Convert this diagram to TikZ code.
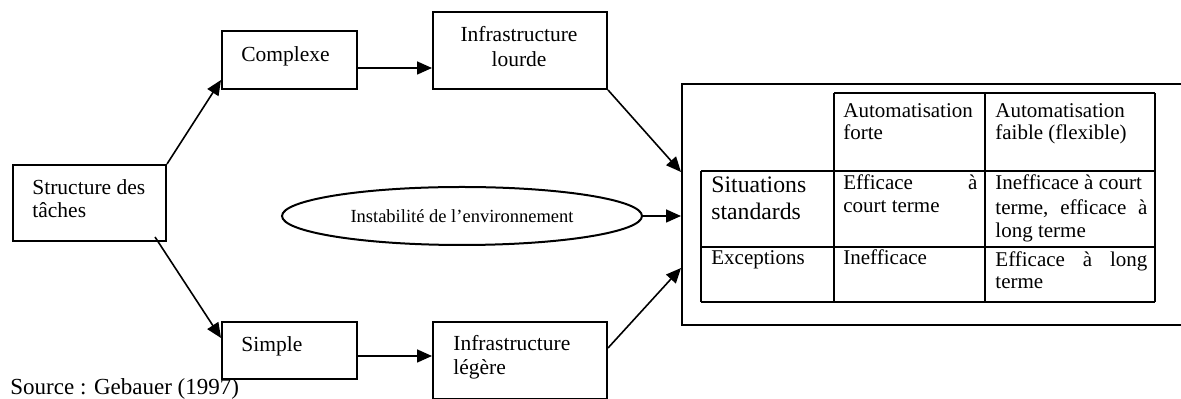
\documentclass[tikz,border=0pt]{standalone}
\usepackage{fontspec}
\setmainfont{Liberation Serif}
\usetikzlibrary{arrows.meta,shapes.geometric}
\begin{document}
\begin{tikzpicture}[x=0.5pt,y=-0.5pt,
  box/.style={draw,line width=1pt,inner sep=0pt,anchor=north west},
  conn/.style={line width=0.8pt,-{Triangle[length=7.5pt,width=6.5pt]}},
  txt/.style={inner sep=0pt,anchor=base west,font=\fontsize{10.75pt}{12pt}\selectfont},
  ctxt/.style={txt,anchor=base},
  tbl/.style={inner sep=0pt,anchor=base west,font=\fontsize{10.5pt}{12pt}\selectfont},
  big/.style={inner sep=0pt,anchor=base west,font=\fontsize{11.85pt}{13pt}\selectfont},
  grid/.style={line width=1pt}]
\useasboundingbox (0,0) rectangle (1181,399);
\clip (0,0) rectangle (1181,399);
% boxes
\node[box,minimum width=67.5pt,minimum height=29pt] (cx) at (221,30) {};
\node[box,minimum width=87pt,minimum height=38.5pt] (lourde) at (432,11) {};
\node[box,minimum width=76.5pt,minimum height=38pt] (struct) at (12,164) {};
\node[box,minimum width=67.5pt,minimum height=28.5pt] (simple) at (221,321) {};
\node[box,minimum width=87pt,minimum height=38.5pt] (legere) at (432,321) {};
\node[box,minimum width=262pt,minimum height=120.5pt] (outer) at (681,83) {};
\node[draw,line width=1pt,ellipse,inner sep=0pt,minimum width=180pt,minimum height=29pt,
      font=\fontsize{9.25pt}{11pt}\selectfont] (ell) at (462,216) {Instabilité de l’environnement};
% box texts
\node[txt] (tcx) at (241,62) {Complexe};
\node[ctxt] (tl1) at (519,42) {Infrastructure};
\node[ctxt] (tl2) at (519,67) {lourde};
\node[txt] (ts1) at (32,195) {Structure des};
\node[txt] (ts2) at (32,218) {tâches};
\node[txt] (tsi) at (241,352) {Simple};
\node[txt] (tg1) at (453,351) {Infrastructure};
\node[txt] (tg2) at (453,375) {légère};
\node[inner sep=0pt,anchor=base west,font=\fontsize{11.5pt}{13pt}\selectfont] (src) at (10,394.5) {Source : Gebauer (1997)};
% connectors
\draw[conn] (struct.north east) -- ([yshift=5pt]cx.south west);
\draw[conn] ([xshift=-6pt,yshift=2.5pt]struct.south east) -- ([yshift=-8.5pt]simple.north west);
\draw[conn] ([yshift=-4pt]cx.east) -- ([yshift=-4pt]cx.east -| lourde.west);
\draw[conn] ([yshift=-2.75pt]simple.east) -- ([yshift=-2.75pt]simple.east -| legere.west);
\draw[conn] (lourde.south east) -- ([yshift=-44.5pt]outer.north west);
\draw[conn] (ell.east) -- (ell.east -| outer.west);
\draw[conn] ([yshift=6.25pt]legere.east) -- ([yshift=-92.5pt]outer.north west);
% table grid
\draw[grid] (834,93) -- (1155,93);
\draw[grid] (701,171) -- (1155,171);
\draw[grid] (701,247) -- (1155,247);
\draw[grid] (701,302) -- (1155,302);
\draw[grid] (701,171) -- (701,302);
\draw[grid] (834,93) -- (834,302);
\draw[grid] (985,93) -- (985,302);
\draw[grid] (1155,93) -- (1155,302);
% table texts
\node[tbl] (h1a) at (843,118) {Automatisation};
\node[tbl] (h1b) at (843,140) {forte};
\node[tbl] (h2a) at (995,118) {Automatisation};
\node[tbl] (h2b) at (995,140) {faible (flexible)};
\node[big] (r1a) at (711,193) {Situations};
\node[big] (r1b) at (711,220) {standards};
\node[tbl] (c11a) at (843,190) {\hbox to 67pt{Efficace\hfill à}};
\node[tbl] (c11b) at (843,213) {court terme};
\node[tbl] (c12a) at (995,190) {Inefficace à court};
\node[tbl] (c12b) at (995,215) {\hbox to 76pt{terme,\hfill efficace\hfill à}};
\node[tbl] (c12c) at (995,238) {long terme};
\node[tbl] (r2) at (711,265) {Exceptions};
\node[tbl] (c21) at (843,265) {Inefficace};
\node[tbl] (c22a) at (995,267) {\hbox to 76pt{Efficace\hfill à\hfill long}};
\node[tbl] (c22b) at (995,289) {terme};
\end{tikzpicture}
\end{document}
